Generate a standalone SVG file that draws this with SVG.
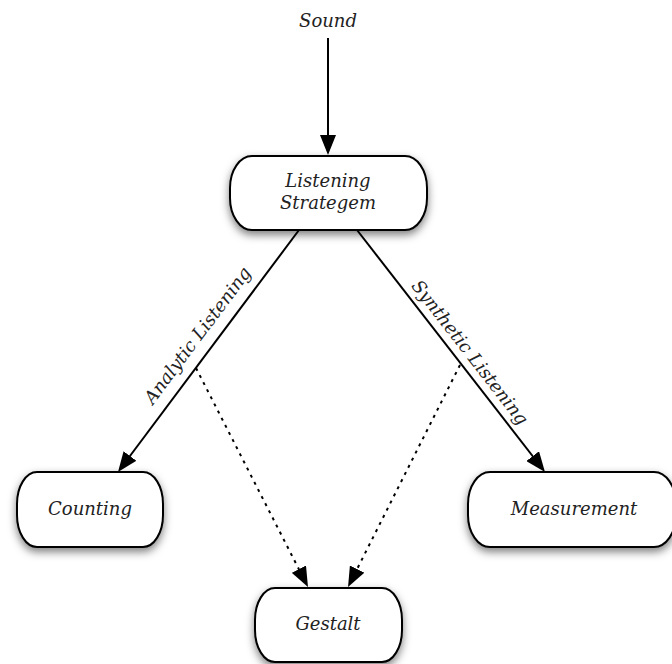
<svg xmlns="http://www.w3.org/2000/svg" width="672" height="664" viewBox="0 0 672 664">
<style>
  .node rect { fill: #ffffff; stroke: #000000; stroke-width: 2; filter: url(#shadow); }
  text { font-family: "DejaVu Serif", "Liberation Serif", serif; font-style: italic; font-size: 18px; fill: #222222; text-anchor: middle; }
  .edge { stroke: #000000; stroke-width: 2; fill: none; marker-end: url(#arrow); }
  .dotted { stroke-dasharray: 3 5; }
</style>
<defs>
  <filter id="shadow" x="-20%" y="-20%" width="140%" height="160%">
    <feDropShadow dx="0" dy="4" stdDeviation="4" flood-color="#000000" flood-opacity="0.5"/>
  </filter>
  <marker id="arrow" viewBox="0 0 20 16" refX="15" refY="8" markerWidth="20" markerHeight="16" markerUnits="userSpaceOnUse" orient="auto">
    <path d="M0,0 L20,8 L0,16 Z" fill="#000000"/>
  </marker>
</defs>
<rect width="672" height="664" fill="#ffffff"/>
<g id="connectors">
  <line class="edge" x1="328" y1="38" x2="328" y2="150"/>
  <line class="edge" x1="299" y1="230" x2="121" y2="468"/>
  <line class="edge" x1="357" y1="230" x2="541.9" y2="468"/>
  <line class="edge dotted" x1="196" y1="368" x2="305.7" y2="582.5"/>
  <line class="edge dotted" x1="460" y1="365" x2="350.3" y2="582.5"/>
  <text transform="translate(202.4,339) rotate(-53.2)">Analytic Listening</text>
  <text transform="translate(465.2,356.2) rotate(52.2)">Synthetic Listening</text>
</g>
<g id="sound">
  <text x="328" y="27">Sound</text>
</g>
<g id="listening-strategem" class="node">
  <rect x="230" y="156" width="197" height="74" rx="22" ry="32"/>
  <text x="328" y="187">Listening</text>
  <text x="328" y="209">Strategem</text>
</g>
<g id="counting" class="node">
  <rect x="17" y="472" width="146" height="75" rx="20" ry="32"/>
  <text x="90" y="515">Counting</text>
</g>
<g id="measurement" class="node">
  <rect x="468" y="472" width="208" height="75" rx="22" ry="32"/>
  <text x="574" y="515">Measurement</text>
</g>
<g id="gestalt" class="node">
  <rect x="255" y="588" width="147" height="74" rx="20" ry="32"/>
  <text x="328" y="630">Gestalt</text>
</g>
</svg>
